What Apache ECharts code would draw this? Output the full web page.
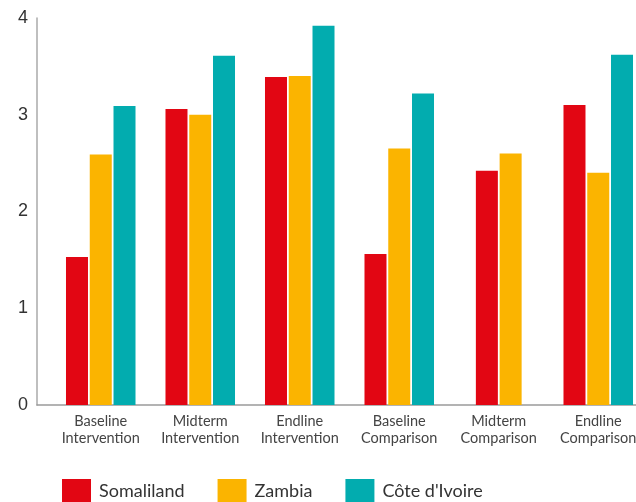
<!DOCTYPE html>
<html>
<head>
<meta charset="utf-8">
<script src="https://cdn.jsdelivr.net/npm/echarts@6/dist/echarts.min.js"></script>
<style>
  html, body { margin: 0; padding: 0; background: #fff; }
  #chart { width: 636px; height: 502px; }
</style>
</head>
<body>
<div id="chart"></div>
<script>
const categories = ['Baseline\nIntervention', 'Midterm\nIntervention', 'Endline\nIntervention',
                    'Baseline\nComparison', 'Midterm\nComparison', 'Endline\nComparison'];
const somaliland = [1.53, 3.06, 3.39, 1.56, 2.42, 3.10];
const zambia = [2.59, 3.00, 3.40, 2.65, 2.60, 2.40];
const coteDIvoire = [3.09, 3.61, 3.92, 3.22, null, 3.62];
const yTicks = [0, 1, 2, 3, 4];

const seriesNames = ['Somaliland', 'Zambia', "Côte d'Ivoire"];
const colors = ['#E20613', '#FBB400', '#02ACAF'];

// groups with a missing third value are drawn as centred pairs
const isPair = coteDIvoire.map(v => v === null);
const fullOnly = arr => arr.map((v, i) => isPair[i] ? null : v);
const pairOnly = arr => arr.map((v, i) => isPair[i] ? v : null);

const barW = 22, gap = '8%';
const chart = echarts.init(document.getElementById('chart'));
chart.setOption({
  animation: false,
  backgroundColor: '#fff',
  grid: [
    { left: 37, top: 18, width: 614, height: 387, containLabel: false, outerBoundsMode: 'none' },
    { left: 51, top: 18, width: 597, height: 387, containLabel: false, outerBoundsMode: 'none' }
  ],
  xAxis: [
    { gridIndex: 0, type: 'value', min: 0, max: 1, show: true,
      axisLine: { show: true, onZero: false, lineStyle: { color: '#9a9a9a', width: 1.5 } },
      axisTick: { show: false }, axisLabel: { show: false }, splitLine: { show: false } },
    { gridIndex: 1, type: 'category', data: categories,
      axisLine: { show: false }, axisTick: { show: false }, splitLine: { show: false },
      axisLabel: { interval: 0, fontFamily: 'Lato', fontSize: 14.5, color: '#444', lineHeight: 17, margin: 8 } },
    { gridIndex: 1, type: 'category', data: categories, show: false }
  ],
  yAxis: [
    { gridIndex: 0, type: 'value', min: yTicks[0], max: yTicks[yTicks.length - 1], interval: 1,
      axisLine: { show: true, lineStyle: { color: '#aaaaaa', width: 1.5 } },
      axisTick: { show: false }, splitLine: { show: false },
      axisLabel: { fontFamily: 'Liberation Sans', fontSize: 18, color: '#333', margin: 9 } },
    { gridIndex: 1, type: 'value', min: yTicks[0], max: yTicks[yTicks.length - 1], interval: 1, show: false }
  ],
  legend: {
    data: seriesNames,
    left: 62, top: 479, padding: 0,
    icon: 'rect', itemWidth: 29, itemHeight: 24, itemGap: 33,
    textStyle: { fontFamily: 'Lato', fontSize: 18, color: '#333', padding: [0, 0, 0, 3] }
  },
  series: [
    { name: seriesNames[0], type: 'bar', xAxisIndex: 1, yAxisIndex: 1, data: fullOnly(somaliland),
      barWidth: barW, barGap: gap, itemStyle: { color: colors[0] } },
    { name: seriesNames[1], type: 'bar', xAxisIndex: 1, yAxisIndex: 1, data: fullOnly(zambia),
      barWidth: barW, barGap: gap, itemStyle: { color: colors[1] } },
    { name: seriesNames[2], type: 'bar', xAxisIndex: 1, yAxisIndex: 1, data: fullOnly(coteDIvoire),
      barWidth: barW, barGap: gap, itemStyle: { color: colors[2] } },
    { name: seriesNames[0], type: 'bar', xAxisIndex: 2, yAxisIndex: 1, data: pairOnly(somaliland),
      barWidth: barW, barGap: gap, itemStyle: { color: colors[0] } },
    { name: seriesNames[1], type: 'bar', xAxisIndex: 2, yAxisIndex: 1, data: pairOnly(zambia),
      barWidth: barW, barGap: gap, itemStyle: { color: colors[1] } }
  ]
});
</script>
</body>
</html>
